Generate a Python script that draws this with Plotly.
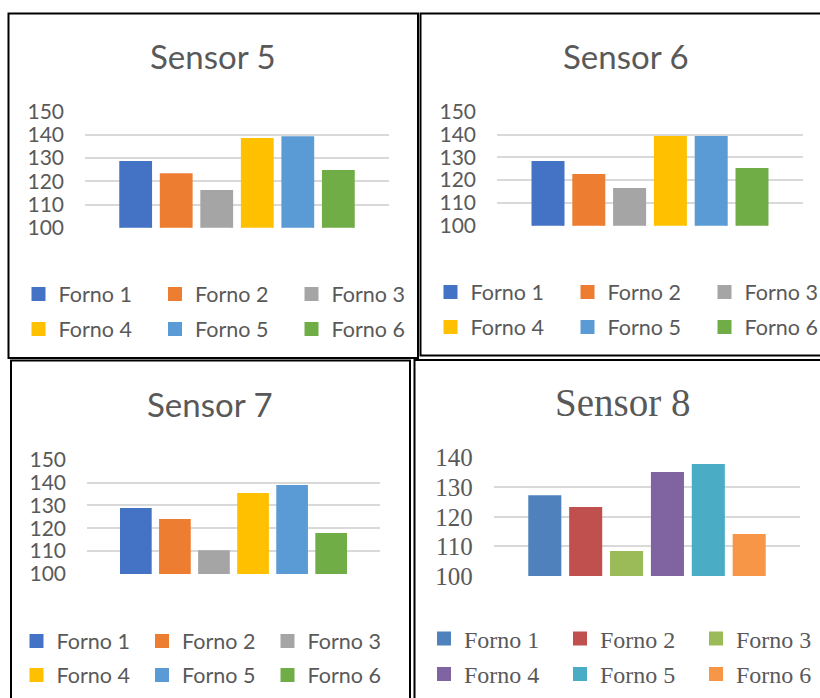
import plotly.graph_objects as go

# --- data -------------------------------------------------------------
sensors = ["Sensor 5", "Sensor 6", "Sensor 7", "Sensor 8"]
fornos = ["Forno 1", "Forno 2", "Forno 3", "Forno 4", "Forno 5", "Forno 6"]

sensor5 = [128.3, 123.0, 115.8, 138.2, 139.0, 124.4]
sensor6 = [127.9, 122.2, 116.1, 138.9, 138.9, 124.9]
sensor7 = [128.4, 123.6, 110.0, 135.0, 138.5, 117.5]
sensor8 = [127.0, 123.0, 108.1, 134.8, 137.5, 113.9]

ticks_a = [100, 110, 120, 130, 140, 150]
ticks_b = [100, 110, 120, 130, 140]

# --- page geometry helpers (pixels -> paper fractions) -----------------
W, H = 820, 698


def fx(px):
    return px / W


def fy(py):
    return 1 - py / H


office = ["#4472C4", "#ED7D31", "#A5A5A5", "#FFC000", "#5B9BD5", "#70AD47"]
office07 = ["#4F81BD", "#C0504D", "#9BBB59", "#8064A2", "#4BACC6", "#F79646"]
TXT = "#595959"
GRID = "#D9D9D9"
SANS = "Lato"
SERIF = "Liberation Serif"

panels = [
    dict(values=sensor5, ticks=ticks_a, colors=office, font=SANS, tsize=33, lsize=21.5, ksize=21,
         plot=(85, 389, 111.7, 227.7), title=(213, 56), legend=(42, 294, 329, 136.5),
         box=(8.5, 13.5, 418, 358)),
    dict(values=sensor6, ticks=ticks_a, colors=office, font=SANS, tsize=33, lsize=21.5, ksize=21,
         plot=(497, 803, 111.7, 225.7), title=(626, 56), legend=(454, 292, 327, 137),
         box=(420.5, 13.5, 830, 355.5)),
    dict(values=sensor7, ticks=ticks_a, colors=office, font=SANS, tsize=33, lsize=21.5, ksize=21,
         plot=(87, 380, 459.7, 574), title=(210, 404), legend=(40, 641, 675, 125.5),
         box=(11, 360.5, 410, 710)),
    dict(values=sensor8, ticks=ticks_b, colors=office07, font=SERIF, tsize=39, lsize=24, ksize=25,
         plot=(493.7, 800.3, 457.7, 576), title=(622, 403), legend=(447.5, 639, 674.5, 136),
         box=(414.5, 360, 830, 710)),
]

fig = go.Figure()
layout = dict(
    width=W, height=H,
    margin=dict(l=0, r=0, t=0, b=0, autoexpand=False),
    paper_bgcolor="white", plot_bgcolor="white",
    barmode="group", bargap=0.2, bargroupgap=0.24,
    annotations=[], shapes=[],
)

for i, (name, p) in enumerate(zip(sensors, panels)):
    k = "" if i == 0 else str(i + 1)
    x0, x1, ytop, ybot = p["plot"]
    layout["xaxis" + k] = dict(
        domain=[fx(x0), fx(x1)], anchor="y" + k, range=[-0.5, 0.5],
        showticklabels=False, showgrid=False, zeroline=False, showline=False,
        fixedrange=True,
    )
    layout["yaxis" + k] = dict(
        domain=[fy(ybot), fy(ytop)], anchor="x" + k,
        range=[p["ticks"][0], p["ticks"][-1]], tickvals=p["ticks"],
        showgrid=True, gridcolor=GRID, gridwidth=1.6, zeroline=False, showline=False,
        ticks="", ticklabelstandoff=20,
        tickfont=dict(family=p["font"], size=p["ksize"], color=TXT),
        fixedrange=True,
    )

    # one legend per row of three entries
    lx, row1, row2, step = p["legend"]
    legnames = []
    for r, ry in enumerate((row1, row2)):
        n = 2 * i + r + 1
        lname = "legend" if n == 1 else f"legend{n}"
        legnames.append(lname)
        layout[lname] = dict(
            orientation="h", x=fx(lx - 23.5), y=fy(ry), xanchor="left", yanchor="middle",
            entrywidth=step - 45, entrywidthmode="pixels",
            bgcolor="rgba(0,0,0,0)", borderwidth=0,
            font=dict(family=p["font"], size=p["lsize"], color=TXT),
            itemclick=False, itemdoubleclick=False,
        )

    for j, (forno, val) in enumerate(zip(fornos, p["values"])):
        col = p["colors"][j]
        fig.add_trace(go.Bar(
            x=[name], y=[val], name=forno,
            marker=dict(color=col, line=dict(width=2, color=col)),
            xaxis="x" + k, yaxis="y" + k,
            legend=legnames[j // 3], showlegend=True,
            hovertemplate=f"{name}<br>{forno}: %{{y}}<extra></extra>",
        ))

    tx, ty = p["title"]
    layout["annotations"].append(dict(
        text=name, xref="paper", yref="paper", x=fx(tx), y=fy(ty),
        xanchor="center", yanchor="middle", showarrow=False,
        font=dict(family=p["font"], size=p["tsize"], color=TXT),
    ))

    bx0, by0, bx1, by1 = p["box"]
    layout["shapes"].append(dict(
        type="rect", xref="paper", yref="paper",
        x0=fx(bx0), x1=fx(bx1), y0=fy(by1), y1=fy(by0),
        line=dict(color="black", width=2), fillcolor="rgba(0,0,0,0)", layer="above",
    ))

fig.update_layout(**layout)
fig.write_html("out.html")
